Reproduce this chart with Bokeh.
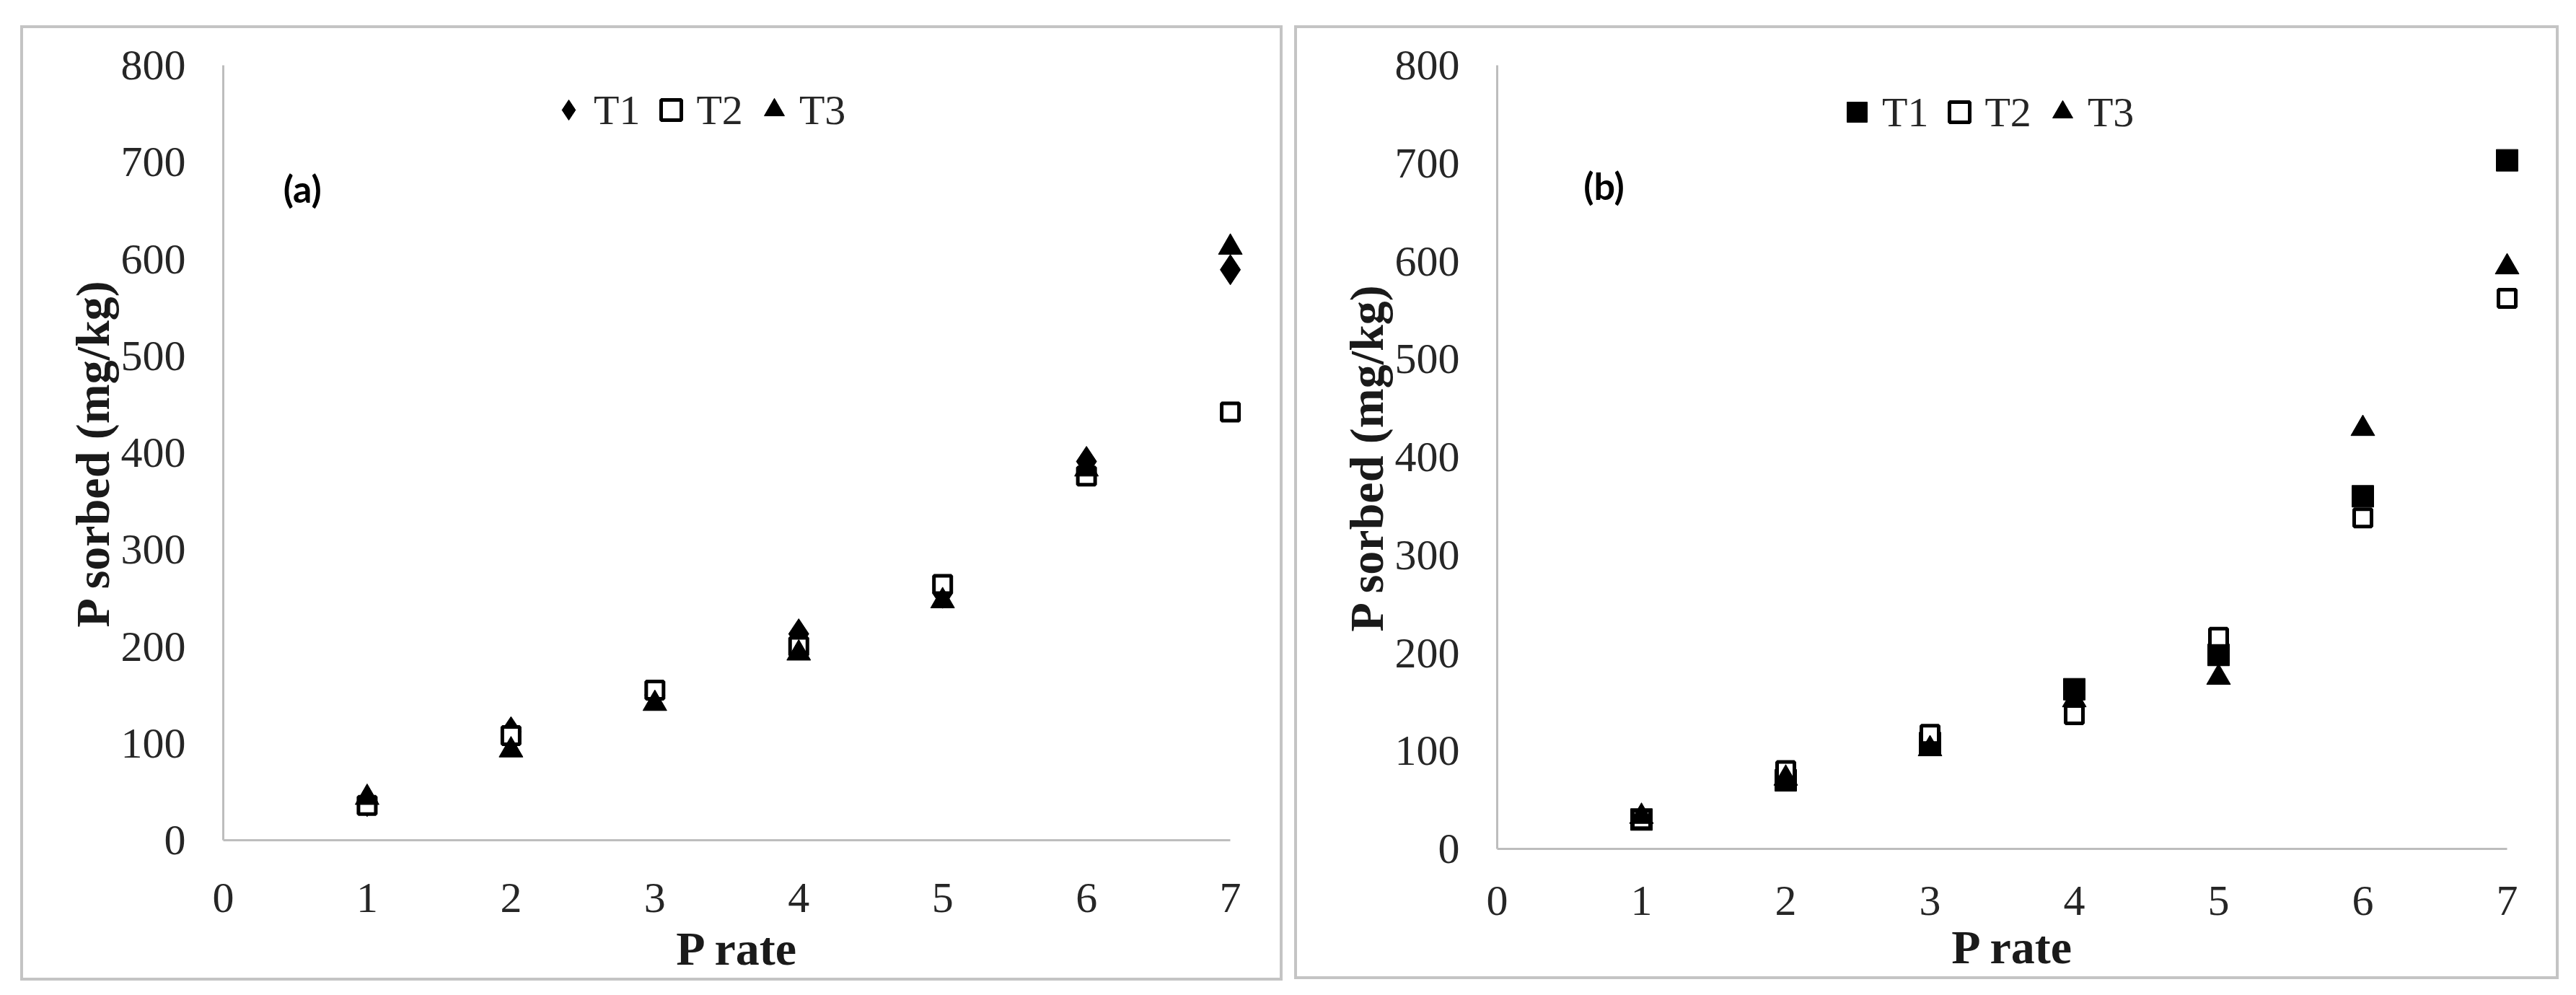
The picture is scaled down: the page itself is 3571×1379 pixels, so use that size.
from bokeh.plotting import figure
from bokeh.models import Range1d, FixedTicker, Legend, LegendItem, Label
from bokeh.layouts import row, column
from bokeh.embed import file_html
from bokeh.resources import INLINE

# ---- data ----
p_rate = [1, 2, 3, 4, 5, 6, 7]
series_names = ["T1", "T2", "T3"]

a_t1 = [40, 112, 150, 213, 255, 391, 589]
a_t2 = [36, 108, 155, 200, 264, 376, 442]
a_t3 = [44, 93, 141, 193, 247, 383, 612]

b_t1 = [30, 70, 108, 163, 198, 360, 703]
b_t2 = [30, 80, 117, 137, 216, 338, 562]
b_t3 = [33, 72, 102, 152, 175, 429, 594]

x_ticks = [0, 1, 2, 3, 4, 5, 6, 7]
y_ticks = [0, 100, 200, 300, 400, 500, 600, 700, 800]

x_title = "P rate"
y_title = "P sorbed (mg/kg)"

SERIF = "Liberation Serif"


def make_panel(tag, t1, t2, t3, t1_marker, frame_w, frame_h, mb_bottom, mb_right,
               x_std, x_title_std, legend_loc, tag_xy):
    p = figure(frame_width=frame_w, frame_height=frame_h,
               x_range=Range1d(0, 7.15), y_range=Range1d(0, 800),
               output_backend="svg", toolbar_location=None,
               min_border_left=277, min_border_right=mb_right,
               min_border_top=51, min_border_bottom=mb_bottom)
    p.outline_line_color = None
    p.xgrid.visible = False
    p.ygrid.visible = False
    p.background_fill_color = "white"
    p.border_fill_color = "white"

    for ax in (p.xaxis[0], p.yaxis[0]):
        ax.axis_line_color = "#bdbdbd"
        ax.axis_line_width = 3
        ax.major_tick_line_color = None
        ax.minor_tick_line_color = None
        ax.major_tick_out = 0
        ax.major_tick_in = 0
        ax.minor_tick_out = 0
        ax.major_label_text_font = SERIF
        ax.major_label_text_font_size = "60px"
        ax.major_label_text_color = "#262626"
        ax.axis_label_text_font = SERIF
        ax.axis_label_text_font_style = "bold"
        ax.axis_label_text_font_size = "66px"
        ax.axis_label_text_color = "#1a1a1a"

    xa = p.xaxis[0]
    xa.ticker = FixedTicker(ticks=x_ticks)
    xa.bounds = (0, 7)
    xa.major_label_standoff = x_std
    xa.axis_label = x_title
    xa.axis_label_standoff = x_title_std

    ya = p.yaxis[0]
    ya.ticker = FixedTicker(ticks=y_ticks)
    ya.major_label_standoff = 52
    ya.axis_label = y_title
    ya.axis_label_standoff = 0

    if t1_marker == "diamond":
        r1 = p.scatter(p_rate, t1, marker="diamond", size=42,
                       fill_color="black", line_color="black")
    else:
        r1 = p.scatter(p_rate, t1, marker="square", size=30,
                       fill_color="black", line_color="black")
    r2 = p.scatter(p_rate, t2, marker="square", size=24,
                   fill_color="white", line_color="black", line_width=5)
    r3 = p.scatter(p_rate, t3, marker="triangle", size=33,
                   fill_color="black", line_color="black")

    legend = Legend(items=[LegendItem(label=series_names[0], renderers=[r1]),
                           LegendItem(label=series_names[1], renderers=[r2]),
                           LegendItem(label=series_names[2], renderers=[r3])],
                    orientation="horizontal", location=legend_loc)
    legend.padding = 0
    legend.margin = 0
    legend.spacing = 8
    legend.label_standoff = 0
    legend.glyph_width = 70
    legend.glyph_height = 70
    legend.label_height = 70
    legend.label_text_font = SERIF
    legend.label_text_font_size = "58px"
    legend.label_text_color = "#262626"
    legend.border_line_color = None
    legend.background_fill_alpha = 0
    p.add_layout(legend)

    # panel tag, e.g. "(a)"
    p.add_layout(Label(x=tag_xy[0], y=tag_xy[1], text=tag,
                       text_font="Lato", text_font_style="bold",
                       text_font_size="52px", text_align="center",
                       text_baseline="middle", text_color="black"))
    return p


p1 = make_panel("(a)", a_t1, a_t2, a_t3, "diamond", 1426, 1074, 191, 39,
                60, 11, (444, 977), (0.55, 673))
p2 = make_panel("(b)", b_t1, b_t2, b_t3, "square", 1430, 1086, 177, 38,
                52, 5, (464, 986), (0.74, 677))

box_style = {"outline": "4px solid #c4c4c4", "outline-offset": "0px",
             "overflow": "hidden"}
c1 = column(p1, width=1742, height=1316, styles=box_style, margin=(39, 0, 0, 32))
c2 = column(p2, width=1745, height=1314, styles=box_style, margin=(39, 0, 0, 24))

layout = row(c1, c2)
open("out.html", "w").write(file_html(layout, INLINE))
